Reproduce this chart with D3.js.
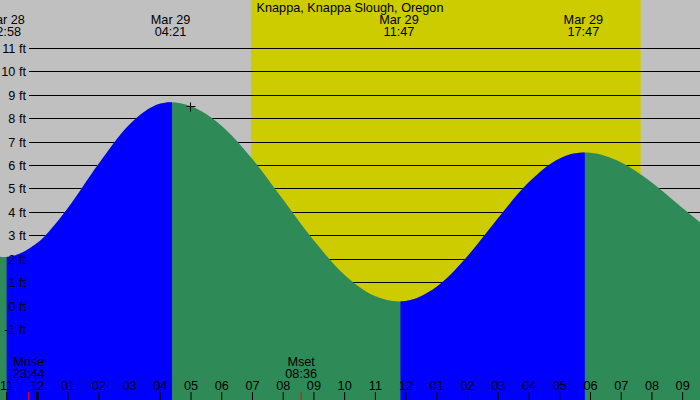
<!DOCTYPE html>
<style>
body { margin: 0; }
svg { display: block; font-family: "Liberation Sans", Arial, sans-serif; }
</style>
<svg width="700" height="400"></svg>
<script src="https://d3js.org/d3.v7.min.js"></script>
<script>
    // hours are counted from Mar 29 00:00
    var title = "Knappa, Knappa Slough, Oregon";

    var tideDates = ["Mar 28", "Mar 29", "Mar 29", "Mar 29"],
        tideTimes = ["22:58", "04:21", "11:47", "17:47"],
        tideHours = [-1.033, 4.35, 11.783, 17.783],
        tideHeights = [2.1, 8.7, 0.2, 6.55];

    var curveHours = [-2, -1.033, 0, 1, 2, 3, 4, 4.35, 5, 6, 7, 8, 9, 10, 11, 11.783,
                      12, 13, 14, 15, 16, 17, 17.783, 18, 19, 20, 21, 22],
        curveHeights = [2.39, 2.1, 2.68, 4.17, 6.05, 7.73, 8.63, 8.7, 8.54, 7.71, 6.30, 4.57, 2.82, 1.35, 0.43, 0.2,
                        0.22, 0.82, 2.11, 3.74, 5.27, 6.29, 6.55, 6.54, 6.14, 5.29, 4.20, 3.14];

    var sunHours = [6.967, 19.65];           // sunrise 06:58, sunset 19:39
    var moonLabels = ["Mrise", "Mset"],
        moonTimes = ["23:44", "08:36"],
        moonHours = [-0.267, 8.6];

    var markerHour = 5, markerHeight = 8.54;

    var hourTicks = d3.range(-1, 22),
        hourLabels = ["11", "12", "01", "02", "03", "04", "05", "06", "07", "08", "09", "10", "11",
                      "12", "01", "02", "03", "04", "05", "06", "07", "08", "09"];

    var feetTicks = d3.range(-1, 12);

    var svg = d3.select("svg"),
        width = +svg.attr("width"),
        height = +svg.attr("height"),
        fontSize = "12.7px";

    var x = d3.scaleLinear()
        .domain([-1.2, 21.58])
        .range([0, width]);

    var y = d3.scaleLinear()
        .domain([-1, 11])
        .range([329.6, 48.3]);

    // background and daylight band
    svg.append("rect")
        .attr("width", width)
        .attr("height", height)
        .attr("fill", "#c0c0c0");

    svg.append("rect")
        .attr("x", x(sunHours[0]))
        .attr("width", x(sunHours[1]) - x(sunHours[0]))
        .attr("height", height)
        .attr("fill", "#cccc00");

    // grid lines under the water
    svg.append("g")
        .selectAll("line")
        .data(feetTicks)
        .enter().append("line")
        .attr("x1", 29)
        .attr("x2", width)
        .attr("y1", function(d) { return Math.floor(y(d)) + 0.5; })
        .attr("y2", function(d) { return Math.floor(y(d)) + 0.5; })
        .attr("stroke", "#000");

    var points = curveHours.map(function(h, i) { return [h, curveHeights[i]]; });

    var area = d3.area()
        .curve(d3.curveMonotoneX)
        .x(function(d) { return x(d[0]); })
        .y0(height)
        .y1(function(d) { return y(d[1]); });

    svg.append("path")
        .datum(points)
        .attr("fill", "#2e8b57")
        .attr("d", area);

    // rising tide in blue
    var defs = svg.append("defs");
    for (var i = 0; i < tideHours.length - 1; i++) {
        if (tideHeights[i + 1] <= tideHeights[i]) continue;
        defs.append("clipPath")
            .attr("id", "rise" + i)
            .append("rect")
            .attr("x", x(tideHours[i]) + 1.5)
            .attr("width", x(tideHours[i + 1]) - x(tideHours[i]))
            .attr("height", height);
        svg.append("path")
            .datum(points)
            .attr("clip-path", "url(#rise" + i + ")")
            .attr("fill", "#0000ff")
            .attr("d", area);
    }

    // y labels
    svg.append("g")
        .attr("font-size", fontSize)
        .selectAll("text")
        .data(feetTicks)
        .enter().append("text")
        .attr("x", 26)
        .attr("y", function(d) { return y(d); })
        .attr("dy", "0.35em")
        .attr("text-anchor", "end")
        .text(function(d) { return d + " ft"; });

    // x axis along the bottom
    var xAxis = svg.append("g")
        .attr("transform", "translate(0," + height + ")")
        .call(d3.axisTop(x)
            .tickValues(hourTicks)
            .tickSize(8)
            .tickPadding(2)
            .tickFormat(function(d, i) { return hourLabels[i]; }));
    xAxis.select(".domain").remove();
    xAxis.selectAll("text")
        .attr("font-family", null)
        .attr("font-size", fontSize)
        .attr("fill", "#000");
    xAxis.selectAll(".tick line").attr("stroke", "#000");
    xAxis.selectAll(".tick").filter(function(d) { return d === 0; })
        .select("line").attr("stroke-width", 2.5);
    xAxis.attr("font-family", null);

    // moon rise / set
    var moon = svg.append("g")
        .attr("font-size", fontSize)
        .attr("text-anchor", "middle")
        .selectAll("g")
        .data(moonHours)
        .enter().append("g")
        .attr("transform", function(d) { return "translate(" + x(d) + ",0)"; });
    moon.append("line")
        .attr("y1", height - 8)
        .attr("y2", height)
        .attr("stroke", "#ff0000");
    moon.append("text")
        .attr("y", 366)
        .text(function(d, i) { return moonLabels[i]; });
    moon.append("text")
        .attr("y", 378)
        .text(function(d, i) { return moonTimes[i]; });

    // tide extremes at the top
    var tides = svg.append("g")
        .attr("font-size", fontSize)
        .attr("text-anchor", "middle")
        .selectAll("g")
        .data(tideHours)
        .enter().append("g")
        .attr("transform", function(d) { return "translate(" + x(d) + ",0)"; });
    tides.append("text")
        .attr("y", 24)
        .text(function(d, i) { return tideDates[i]; });
    tides.append("text")
        .attr("y", 36)
        .text(function(d, i) { return tideTimes[i]; });

    svg.append("text")
        .attr("x", width / 2)
        .attr("y", 12)
        .attr("text-anchor", "middle")
        .attr("font-size", fontSize)
        .text(title);

    // current level marker
    var mx = Math.round(x(markerHour)) - 0.5,
        my = Math.round(y(markerHeight)) + 0.5;
    svg.append("path")
        .attr("d", "M" + (mx - 4) + "," + my + "H" + (mx + 5) + "M" + mx + "," + (my - 4) + "V" + (my + 5))
        .attr("stroke", "#000")
        .attr("fill", "none");
</script>
